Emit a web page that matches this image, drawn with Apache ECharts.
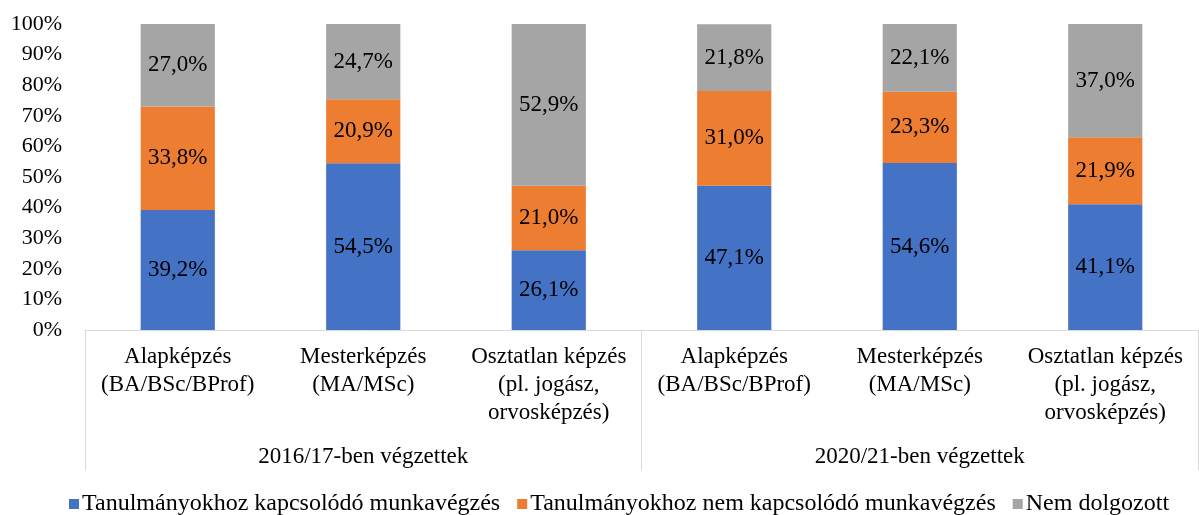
<!DOCTYPE html>
<html>
<head>
<meta charset="utf-8">
<script src="https://cdn.jsdelivr.net/npm/echarts@6/dist/echarts.min.js"></script>
<style>
  html, body { margin: 0; padding: 0; background: #fff; }
  #chart { width: 1199px; height: 515px; }
</style>
</head>
<body>
<div id="chart"></div>
<script>
// képzési típusok (alsó kategóriák) és évfolyam-csoportok
const categories = [
  "Alapképzés\n(BA/BSc/BProf)", "Mesterképzés\n(MA/MSc)", "Osztatlan képzés\n(pl. jogász,\norvosképzés)",
  "Alapképzés\n(BA/BSc/BProf)", "Mesterképzés\n(MA/MSc)", "Osztatlan képzés\n(pl. jogász,\norvosképzés)"
];
const groups = ["2016/17-ben végzettek", "2020/21-ben végzettek"];

const seriesNames = [
  "Tanulmányokhoz kapcsolódó munkavégzés",
  "Tanulmányokhoz nem kapcsolódó munkavégzés",
  "Nem dolgozott"
];
const kapcsolodo = [39.2, 54.5, 26.1, 47.1, 54.6, 41.1];
const nemKapcsolodo = [33.8, 20.9, 21.0, 31.0, 23.3, 21.9];
const nemDolgozott = [27.0, 24.7, 52.9, 21.8, 22.1, 37.0];
const colors = ["#4472C4", "#ED7D31", "#A5A5A5"];

const font = "'Liberation Serif', 'Times New Roman', serif";

let chart = echarts.init(document.getElementById("chart"));

function makeSeries(name, data, color) {
  return {
    name: name,
    type: "bar",
    stack: "total",
    xAxisIndex: 0,
    barWidth: "40%",
    data: data,
    itemStyle: { color: color },
    label: {
      show: true,
      position: "inside",
      color: "#000",
      fontFamily: font,
      fontSize: 23,
      formatter: p => p.value.toFixed(1).replace(".", ",") + "%"
    }
  };
}

chart.setOption({
  animation: false,
  textStyle: { fontFamily: font },
  grid: { left: 85, right: 1, top: 24, bottom: 185 },
  legend: {
    bottom: -6,
    left: 64,
    itemWidth: 10,
    itemHeight: 10,
    itemGap: 17,
    icon: "rect",
    textStyle: { fontFamily: font, fontSize: 24, color: "#000", padding: [0, 0, 0, -2] },
    data: seriesNames
  },
  xAxis: [
    {
      type: "category",
      data: categories,
      axisLine: { show: true, lineStyle: { color: "#d9d9d9", width: 1 } },
      axisTick: { show: false },
      axisLabel: {
        interval: 0,
        margin: 13,
        color: "#000",
        fontFamily: font,
        fontSize: 23,
        lineHeight: 28
      }
    },
    {
      type: "category",
      position: "bottom",
      data: groups,
      axisLine: { show: false },
      axisTick: { show: true, length: 140, lineStyle: { color: "#d9d9d9", width: 1 } },
      axisLabel: {
        interval: 0,
        margin: 115,
        color: "#000",
        fontFamily: font,
        fontSize: 23
      }
    }
  ],
  yAxis: {
    type: "value",
    min: 0,
    max: 100,
    interval: 10,
    splitLine: { show: false },
    axisLine: { show: false },
    axisTick: { show: false },
    axisLabel: {
      color: "#000",
      fontFamily: font,
      fontSize: 22,
      margin: 23,
      formatter: v => v + "%"
    }
  },
  series: [
    makeSeries(seriesNames[0], kapcsolodo, colors[0]),
    makeSeries(seriesNames[1], nemKapcsolodo, colors[1]),
    makeSeries(seriesNames[2], nemDolgozott, colors[2])
  ]
});
</script>
</body>
</html>
